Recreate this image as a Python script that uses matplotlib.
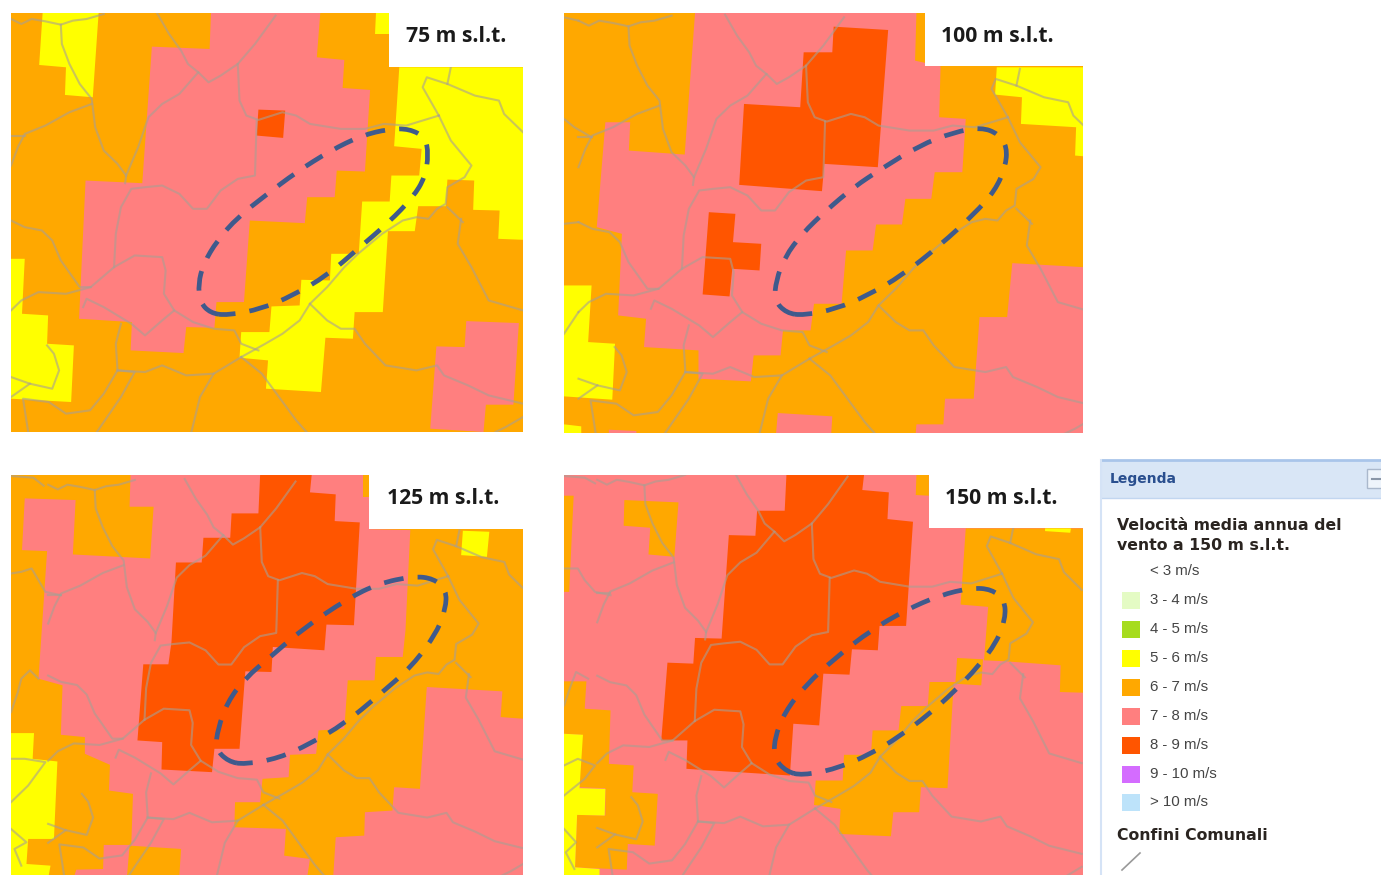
import matplotlib
matplotlib.use('Agg')
import matplotlib.pyplot as plt
from matplotlib.patches import Polygon, Rectangle, PathPatch
from matplotlib.path import Path

ORANGE = '#ffa800'
PINK = '#ff7f7f'
RED = '#ff5500'
YELLOW = '#ffff00'
GREY = '#a89f94'
DASH = '#3f5a8c'

W, H = 1381, 875

# mappe: estensione in pixel (x0, x1, y0, y1), coordinate lette (x0, x1, y0, y1)
labels = ['75 m s.l.t.', '100 m s.l.t.', '125 m s.l.t.', '150 m s.l.t.']
label_xy = [(456, 37), (997, 36), (443, 499), (1001, 498)]
pix_ext = [(11, 523, 13, 432), (564, 1083, 13, 433), (11, 523, 475, 875), (564, 1083, 475, 875)]
read_ext = [(30, 1520, 37, 1295), (40, 1545, 37, 1298), (30, 1520, 30, 1228), (40, 1545, 30, 1228)]
white_box = [(1130, 198), (1087, 197), (1073, 192), (1098, 188)]
base_colors = [ORANGE, ORANGE, ORANGE, PINK]

# classi di vento, una lista per pannello: (colore, vertici)
areas_75 = [
    (PINK, [(440, 138), (608, 145), (612, 37), (930, 37), (920, 170), (1000, 178), (995, 262), (1075, 268), (1060, 513), (978, 510), (972, 590), (892, 590), (885, 668), (725, 660), (708, 905), (628, 905), (622, 982), (540, 980), (532, 1058), (378, 1050), (382, 965), (228, 955), (247, 540), (412, 548)]),
    (PINK, [(1268, 1038), (1350, 1040), (1355, 962), (1508, 968), (1492, 1213), (1412, 1213), (1405, 1295), (1250, 1285)]),
    (RED, [(750, 327), (828, 330), (822, 412), (745, 405)]),
    (YELLOW, [(122, 37), (285, 37), (268, 290), (187, 283), (190, 200), (112, 193)]),
    (YELLOW, [(1092, 37), (1130, 37), (1130, 100), (1088, 100)]),
    (YELLOW, [(1160, 200), (1520, 200), (1520, 718), (1448, 715), (1452, 630), (1375, 628), (1378, 540), (1300, 537), (1295, 617), (1215, 617), (1205, 692), (1127, 692), (1112, 935), (1030, 935), (1025, 1015), (945, 1012), (932, 1175), (772, 1165), (778, 1080), (695, 1072), (700, 995), (782, 995), (788, 918), (870, 915), (875, 838), (958, 840), (962, 760), (1042, 760), (1052, 603), (1132, 603), (1137, 525), (1218, 525), (1225, 445), (1145, 437)]),
    (YELLOW, [(30, 775), (70, 775), (62, 940), (138, 945), (135, 1030), (213, 1035), (205, 1205), (30, 1195)]),
]
areas_100 = [
    (PINK, [(420, 37), (1062, 37), (1058, 180), (1132, 197), (1128, 350), (1205, 355), (1195, 515), (1115, 515), (1105, 595), (1030, 595), (1020, 672), (945, 672), (935, 750), (858, 750), (845, 910), (765, 910), (755, 990), (675, 990), (668, 1065), (590, 1065), (582, 1143), (430, 1135), (430, 1050), (272, 1040), (278, 955), (197, 945), (208, 700), (135, 680), (160, 365), (232, 365), (228, 450), (390, 462)]),
    (PINK, [(1340, 788), (1545, 800), (1545, 1298), (1060, 1298), (1062, 1272), (1140, 1272), (1145, 1195), (1228, 1195), (1245, 950), (1325, 950)]),
    (PINK, [(660, 1238), (818, 1248), (815, 1298), (655, 1298)]),
    (PINK, [(170, 1288), (250, 1292), (250, 1298), (170, 1298)]),
    (RED, [(822, 78), (980, 88), (950, 500), (795, 490), (788, 572), (548, 553), (562, 310), (725, 320), (735, 155), (818, 155)]),
    (RED, [(460, 635), (537, 640), (530, 725), (612, 730), (607, 810), (528, 805), (520, 888), (442, 882)]),
    (YELLOW, [(1295, 200), (1545, 200), (1545, 467), (1522, 465), (1525, 380), (1365, 370), (1368, 290), (1290, 282)]),
    (YELLOW, [(40, 855), (120, 855), (110, 1025), (188, 1030), (180, 1198), (40, 1188)]),
    (YELLOW, [(40, 1272), (90, 1278), (90, 1298), (40, 1298)]),
]
areas_125 = [
    (PINK, [(378, 30), (1073, 30), (1073, 192), (1192, 195), (1178, 495), (1170, 575), (1092, 575), (1088, 645), (1010, 645), (1000, 790), (925, 795), (918, 865), (842, 868), (838, 935), (762, 940), (755, 1010), (682, 1010), (680, 1085), (830, 1090), (825, 1170), (900, 1180), (893, 1228), (215, 1228), (220, 1212), (298, 1210), (300, 1138), (380, 1138), (385, 985), (315, 975), (318, 898), (245, 865), (245, 815), (175, 808), (180, 660), (110, 640), (135, 258), (62, 255), (70, 100), (218, 105), (210, 268), (435, 280), (445, 125), (375, 125)]),
    (PINK, [(975, 1115), (1058, 1110), (1060, 1040), (1140, 1035), (1145, 965), (1220, 970), (1240, 665), (1460, 678), (1455, 755), (1520, 760), (1520, 1228), (968, 1228)]),
    (ORANGE, [(375, 1140), (525, 1150), (520, 1228), (368, 1228)]),
    (ORANGE, [(1055, 30), (1073, 30), (1073, 95), (1053, 95)]),
    (RED, [(755, 30), (905, 30), (900, 82), (975, 88), (972, 168), (1045, 172), (1028, 480), (948, 478), (942, 555), (792, 545), (788, 620), (712, 618), (695, 850), (622, 850), (615, 920), (468, 912), (470, 830), (398, 825), (415, 597), (488, 597), (497, 530), (510, 292), (585, 292), (590, 218), (668, 218), (672, 145), (750, 145)]),
    (YELLOW, [(1345, 197), (1422, 200), (1415, 275), (1340, 270)]),
    (YELLOW, [(30, 803), (97, 803), (93, 880), (165, 888), (155, 1120), (80, 1120), (75, 1195), (145, 1200), (140, 1228), (30, 1228)]),
]
areas_150 = [
    (ORANGE, [(40, 92), (68, 92), (55, 380), (40, 380)]),
    (ORANGE, [(215, 105), (372, 112), (360, 275), (285, 268), (290, 188), (213, 182)]),
    (ORANGE, [(1062, 30), (1098, 30), (1098, 92), (1060, 90)]),
    (ORANGE, [(1205, 190), (1545, 190), (1545, 682), (1478, 680), (1480, 600), (1320, 588), (1258, 585), (1270, 425), (1190, 418)]),
    (ORANGE, [(1180, 578), (1255, 582), (1250, 660), (1170, 655), (1152, 968), (1075, 965), (1070, 1040), (995, 1040), (988, 1112), (838, 1105), (842, 1030), (765, 1018), (770, 945), (848, 945), (852, 868), (930, 868), (935, 795), (1010, 795), (1018, 722), (1095, 722), (1100, 650), (1175, 650)]),
    (ORANGE, [(40, 648), (105, 648), (100, 730), (175, 735), (170, 895), (242, 900), (238, 980), (312, 985), (303, 1140), (225, 1135), (222, 1212), (72, 1205), (78, 1048), (160, 1050), (160, 968), (85, 965), (90, 808), (40, 805)]),
    (YELLOW, [(40, 805), (95, 808), (85, 968), (160, 970), (158, 1050), (78, 1048), (72, 1205), (143, 1210), (143, 1228), (40, 1228)]),
    (YELLOW, [(1435, 190), (1510, 190), (1508, 203), (1435, 198)]),
    (RED, [(685, 30), (910, 30), (905, 75), (982, 82), (978, 162), (1052, 170), (1032, 482), (955, 482), (950, 555), (875, 552), (868, 628), (792, 625), (780, 780), (705, 775), (695, 930), (395, 910), (398, 825), (322, 825), (340, 592), (415, 595), (420, 518), (497, 520), (518, 210), (595, 212), (600, 137), (680, 137)]),
]
panel_areas = [areas_75, areas_100, areas_125, areas_150]

boundaries = [
    [(30, 55), (60, 70), (90, 55), (130, 62), (175, 72), (210, 60), (250, 55), (300, 40)],
    [(175, 72), (178, 130), (200, 190), (230, 250), (265, 295), (275, 380), (300, 450), (340, 490), (365, 525), (362, 548)],
    [(30, 495), (50, 440), (70, 400), (130, 375), (200, 335), (265, 310)],
    [(30, 405), (70, 405)],
    [(365, 525), (400, 440), (430, 350), (470, 310), (520, 280), (575, 215), (605, 245), (640, 225), (690, 190), (740, 130), (800, 45)],
    [(455, 37), (490, 100), (525, 150), (545, 190), (575, 215)],
    [(690, 190), (695, 300), (715, 345), (750, 358), (820, 335), (860, 345), (900, 370), (990, 385), (1060, 385), (1115, 370), (1180, 375), (1275, 345)],
    [(745, 358), (740, 525), (690, 535), (640, 570), (600, 625), (560, 625), (520, 580), (470, 555), (420, 560), (380, 565), (350, 620), (335, 700), (330, 800)],
    [(1275, 345), (1228, 260), (1240, 230), (1300, 250), (1380, 285), (1450, 300), (1465, 340), (1520, 395)],
    [(1300, 250), (1310, 200)],
    [(1275, 345), (1310, 420), (1370, 495), (1350, 530), (1300, 560), (1295, 610), (1270, 625), (1245, 655), (1210, 650), (1170, 660), (1110, 700), (1040, 760), (1000, 800), (950, 860), (900, 910), (870, 960), (820, 1000), (770, 1030), (700, 1070)],
    [(30, 660), (70, 680), (120, 690), (150, 720), (175, 780), (230, 860), (262, 860)],
    [(30, 930), (60, 900), (110, 875), (190, 880), (262, 860), (330, 800), (390, 765), (470, 770), (480, 810), (475, 880), (505, 930), (470, 960), (420, 1005), (380, 970), (300, 920), (250, 895), (240, 920)],
    [(505, 930), (560, 965), (620, 985), (680, 990), (700, 1030), (750, 1050)],
    [(900, 910), (950, 960), (990, 985), (1030, 985), (1060, 1030), (1120, 1095), (1210, 1110), (1270, 1095), (1290, 1125), (1360, 1155), (1420, 1185), (1520, 1210)],
    [(700, 1070), (760, 1120), (810, 1190), (860, 1260), (890, 1295)],
    [(700, 1070), (620, 1120), (540, 1125), (470, 1095), (420, 1115), (340, 1110)],
    [(620, 1120), (580, 1190), (555, 1295)],
    [(350, 970), (335, 1030), (340, 1110), (300, 1180), (260, 1230), (190, 1240), (140, 1205), (65, 1195), (80, 1295)],
    [(340, 1110), (390, 1115), (350, 1190), (280, 1295)],
    [(135, 1035), (155, 1060), (170, 1110), (150, 1165), (85, 1150), (30, 1130)],
    [(30, 1190), (85, 1150)],
    [(1340, 655), (1330, 730), (1370, 800), (1420, 900), (1520, 930)],
    [(1300, 620), (1345, 665)],
    [(1520, 1250), (1470, 1280), (1440, 1295)],
]
# scala e spostamento dei confini nei quattro pannelli: sx, sy, dx, dy
boundary_fit = [(1, 1, 0, 0), (1, 1, 52, 5), (0.935, 0.945, 110, 7), (0.943, 0.97, 108, -9)]

# confini che si vedono solo nei pannelli spostati a ovest (coordinate del pannello)
extra_100 = [
    [(40, 355), (70, 380), (120, 410)],
    [(40, 670), (82, 665)],
    [(40, 1000), (82, 935)],
    [(40, 50), (82, 60)],
]
extra_125 = [
    [(30, 325), (60, 320), (90, 310), (110, 345), (130, 380), (175, 390)],
    [(30, 740), (50, 680), (60, 640), (85, 615), (110, 640)],
    [(30, 880), (70, 880), (130, 890), (80, 960), (30, 1010)],
    [(30, 1090), (75, 1130), (40, 1150), (60, 1200)],
    [(30, 33), (95, 38), (125, 62)],
]
extra_150 = [
    [(40, 310), (80, 310), (100, 345), (130, 380), (175, 390)],
    [(40, 720), (60, 660), (75, 620), (110, 640)],
    [(40, 900), (80, 880), (130, 900), (100, 940), (40, 990)],
    [(40, 1090), (75, 1130), (45, 1160), (70, 1210)],
    [(40, 33), (100, 38), (130, 55)],
]
panel_extra = [[], extra_100, extra_125, extra_150]

# area tratteggiata
dash_75 = [(610, 938), (580, 905), (575, 850), (590, 790), (630, 720), (690, 650), (770, 585), (860, 515), (960, 450), (1050, 405), (1130, 385), (1190, 385), (1235, 410), (1245, 460), (1235, 530), (1200, 590), (1130, 665), (1040, 745), (950, 825), (850, 885), (760, 925), (660, 945)]
dash_100 = [(685, 938), (650, 900), (655, 840), (680, 770), (730, 700), (800, 630), (880, 560), (960, 505), (1070, 435), (1170, 395), (1250, 380), (1300, 400), (1325, 440), (1320, 500), (1290, 570), (1230, 640), (1130, 735), (1020, 825), (920, 885), (830, 925), (735, 945)]
dash_125 = [(662, 888), (625, 850), (632, 790), (660, 710), (710, 640), (790, 570), (880, 490), (1010, 400), (1100, 355), (1200, 333), (1260, 340), (1297, 375), (1295, 430), (1270, 500), (1200, 600), (1100, 690), (1000, 775), (900, 835), (810, 878), (710, 897)]
dash_150 = [(685, 918), (650, 880), (650, 820), (680, 740), (740, 660), (830, 575), (930, 495), (1030, 435), (1130, 390), (1220, 368), (1280, 372), (1318, 405), (1320, 460), (1295, 530), (1240, 605), (1170, 680), (1100, 745), (1010, 815), (930, 865), (830, 910), (730, 930)]
panel_dash = [dash_75, dash_100, dash_125, dash_150]

# legenda
legend_labels = ['< 3 m/s', '3 - 4 m/s', '4 - 5 m/s', '5 - 6 m/s', '6 - 7 m/s', '7 - 8 m/s', '8 - 9 m/s', '9 - 10 m/s', '> 10 m/s']
legend_colors = ['#ffffff', '#e4fbc4', '#a6dc1e', YELLOW, ORANGE, PINK, RED, '#d46cff', '#bde3fa']
legend_rows = [571, 600, 629, 658, 687, 716, 745, 774, 802]


def smooth_closed(points):
    # curva chiusa: i vertici letti fanno da punti di controllo
    verts = []
    codes = []
    n = len(points)
    for j in range(n):
        a = points[j]
        b = points[(j + 1) % n]
        mid = ((a[0] + b[0]) / 2, (a[1] + b[1]) / 2)
        if j == 0:
            first = ((points[-1][0] + a[0]) / 2, (points[-1][1] + a[1]) / 2)
            verts.append(first)
            codes.append(Path.MOVETO)
        verts += [a, mid]
        codes += [Path.CURVE3, Path.CURVE3]
    return Path(verts, codes)


fig = plt.figure(figsize=(W / 100, H / 100), dpi=100)

for i in range(4):
    px0, px1, py0, py1 = pix_ext[i]
    ax = fig.add_axes([px0 / W, 1 - py1 / H, (px1 - px0) / W, (py1 - py0) / H])
    rx0, rx1, ry0, ry1 = read_ext[i]
    ax.set_xlim(rx0, rx1)
    ax.set_ylim(ry1, ry0)
    ax.axis('off')
    ax.add_patch(Rectangle((rx0, ry0), rx1 - rx0, ry1 - ry0, fc=base_colors[i], ec='none', zorder=0))
    for color, verts in panel_areas[i]:
        ax.add_patch(Polygon(verts, closed=True, fc=color, ec='none', zorder=1))

    sx, sy, dx, dy = boundary_fit[i]
    for line in boundaries:
        xs = [p[0] * sx + dx for p in line]
        ys = [p[1] * sy + dy for p in line]
        ax.plot(xs, ys, color=GREY, lw=1.5, alpha=0.6, zorder=2, solid_joinstyle='round')
    for line in panel_extra[i]:
        ax.plot([p[0] for p in line], [p[1] for p in line], color=GREY, lw=1.5, alpha=0.6, zorder=2)

    ax.add_patch(PathPatch(smooth_closed(panel_dash[i]), fc='none', ec=DASH, lw=3.4,
                           linestyle=(0, (4.2, 3.0)), capstyle='butt', zorder=3))

    bx, by = white_box[i]
    ax.add_patch(Rectangle((bx, ry0), rx1 - bx, by - ry0, fc='white', ec='none', zorder=4))

# testi e legenda in pixel sull'intera figura
over = fig.add_axes([0, 0, 1, 1], facecolor='none')
over.set_xlim(0, W)
over.set_ylim(H, 0)
over.axis('off')

for txt, (x, y) in zip(labels, label_xy):
    over.text(x, y, txt, ha='center', va='center', fontsize=15.2, fontweight='bold', family='Open Sans', color='#1a1a1a')

over.add_patch(Rectangle((1101, 460), 280, 38, fc='#d9e6f6', ec='none'))
over.plot([1101, 1381], [459.5, 459.5], color='#a9c5ea', lw=2)
over.plot([1101, 1381], [498, 498], color='#c2d6f0', lw=1)
over.plot([1101.5, 1101.5], [460, 875], color='#d5e3f6', lw=1.5)
over.add_patch(Rectangle((1367, 469), 20, 19, fc='#eef4fb', ec='#aab8cc', lw=1))
over.plot([1372, 1381], [478.5, 478.5], color='#8a97a8', lw=1.5)
over.text(1110, 479, 'Legenda', fontsize=10, fontweight='bold', family='DejaVu Sans', color='#2a4f8f', va='center')

over.text(1117, 526, 'Velocità media annua del', fontsize=11.3, fontweight='bold', family='DejaVu Sans', color='#2a2420', va='center')
over.text(1117, 545, 'vento a 150 m s.l.t.', fontsize=11.3, fontweight='bold', family='DejaVu Sans', color='#2a2420', va='center')
for name, col, y in zip(legend_labels, legend_colors, legend_rows):
    over.add_patch(Rectangle((1122, y - 8.5), 18, 17, fc=col, ec='none'))
    over.text(1150, y, name, fontsize=10.8, family='Liberation Sans', color='#444444', va='center')
over.text(1117, 835, 'Confini Comunali', fontsize=11.3, fontweight='bold', family='DejaVu Sans', color='#2a2420', va='center')
over.plot([1122, 1140], [870, 853], color='#999999', lw=1.2)

fig.savefig('out.png', dpi=100, facecolor='white')
